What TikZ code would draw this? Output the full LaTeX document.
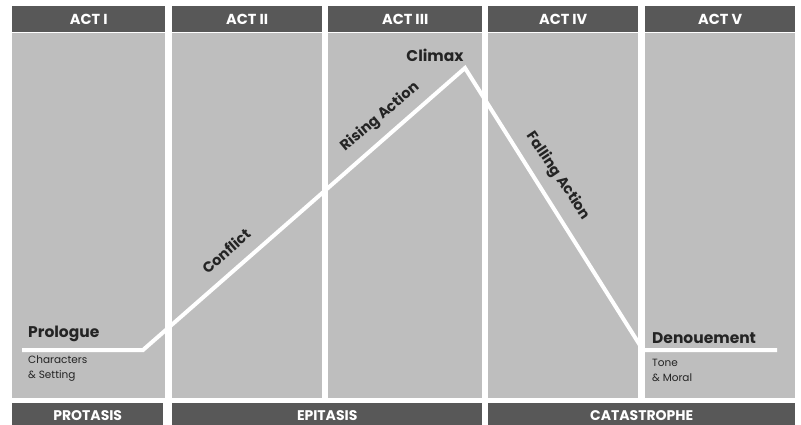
\documentclass[tikz,border=0pt]{standalone}
\usepackage{fontspec}
\setmainfont{Poppins}
\definecolor{panelgray}{HTML}{BEBEBE}
\definecolor{bargray}{HTML}{585858}
\definecolor{inkgray}{HTML}{242424}
\tikzset{
  headbox/.style={fill=bargray, text=white, inner sep=0pt, anchor=north west, minimum height=26pt, font=\bfseries\fontsize{14.5}{14.5}\selectfont},
  panelbox/.style={fill=panelgray, inner sep=0pt, anchor=north west, minimum height=365pt},
  footbox/.style={fill=bargray, text=white, inner sep=0pt, anchor=north west, minimum height=24pt, font=\bfseries\fontsize{14}{14}\selectfont},
  biglabel/.style={text=inkgray, inner sep=0pt, font=\bfseries\fontsize{15.5}{16}\selectfont},
  smalllabel/.style={text=inkgray, inner sep=0pt, anchor=north west, align=left, font=\fontsize{10.5}{15}\selectfont},
  arclabel/.style={text=inkgray, inner sep=0pt, font=\bfseries\fontsize{14.5}{15}\selectfont},
  plotline/.style={draw=white, line width=4pt, line join=miter}
}
\begin{document}
\begin{tikzpicture}[x=1pt,y=-1pt]
\useasboundingbox (0,0) rectangle (801,425);
\fill[white] (0,0) rectangle (801,425);
% panels
\node[panelbox, minimum width=153pt] (p1) at (12,33) {};
\node[panelbox, minimum width=150pt] (p2) at (172,33) {};
\node[panelbox, minimum width=154pt] (p3) at (328,33) {};
\node[panelbox, minimum width=150pt] (p4) at (488,33) {};
\node[panelbox, minimum width=150pt] (p5) at (645,33) {};
% headers
\node[headbox, minimum width=153pt] (h1) at (12,6) {ACT I};
\node[headbox, minimum width=150pt] (h2) at (172,6) {ACT II};
\node[headbox, minimum width=154pt] (h3) at (328,6) {ACT III};
\node[headbox, minimum width=150pt] (h4) at (488,6) {ACT IV};
\node[headbox, minimum width=150pt] (h5) at (645,6) {ACT V};
% footers
\node[footbox, minimum width=151pt] (f1) at (12,403) {PROTASIS};
\node[footbox, minimum width=310pt] (f2) at (172,403) {EPITASIS};
\node[footbox, minimum width=307pt] (f3) at (488,403) {CATASTROPHE};
% plot line
\coordinate (start) at (22,350);
\coordinate (incite) at (143,350);
\coordinate (peak) at (465,68);
\coordinate (resol) at (643,350);
\coordinate (finish) at (777,350);
\draw[plotline] (start) -- (incite) -- (peak) -- (resol) -- (finish);
% labels
\node[biglabel, anchor=south west] (prologue) at (28,342) {Prologue};
\node[smalllabel] (chars) at (28,356) {Characters\\\& Setting};
\node[biglabel, anchor=south west] (denoue) at (652,344) {Denouement};
\node[smalllabel] (tone) at (652,359) {Tone\\\& Moral};
\node[biglabel] (climax) at (435,55) {Climax};
\node[arclabel, rotate=41.5] (conflict) at (226,251) {Conflict};
\node[arclabel, rotate=40] (rising) at (380,117) {Rising Action};
\node[arclabel, rotate=-56] (falling) at (558,176) {Falling Action};
\end{tikzpicture}
\end{document}
